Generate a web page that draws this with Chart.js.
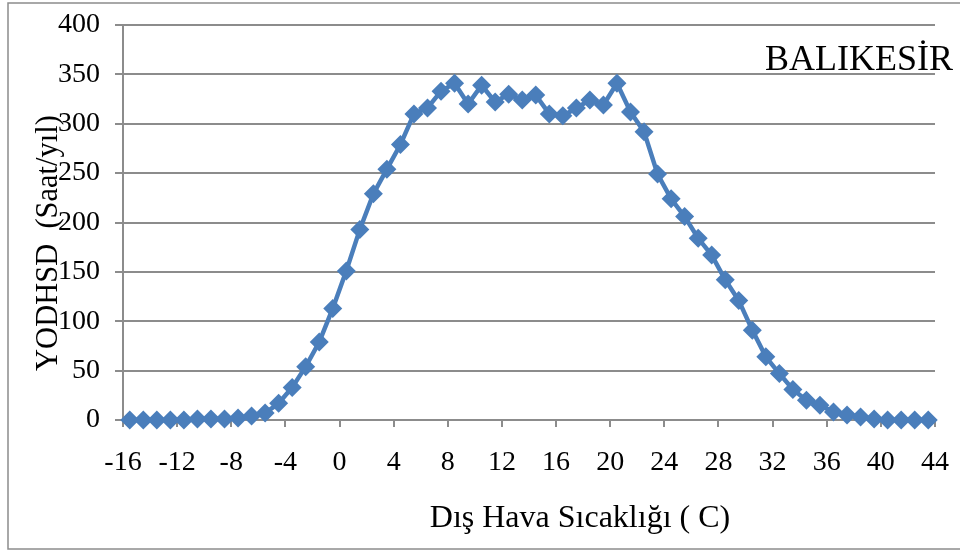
<!DOCTYPE html>
<html lang="tr">
<head>
<meta charset="utf-8">
<title>Balıkesir YODHSD</title>
<script src="https://cdn.jsdelivr.net/npm/chart.js@4"></script>
<style>
  body { margin: 0; background: #fff; }
  canvas { display: block; }
</style>
</head>
<body>
<canvas id="grafik" width="960" height="551"></canvas>
<script>
// sıcaklık aralığı orta noktaları (°C)
const sicaklik = [
  -15.5, -14.5, -13.5, -12.5, -11.5, -10.5, -9.5, -8.5, -7.5, -6.5,
  -5.5, -4.5, -3.5, -2.5, -1.5, -0.5, 0.5, 1.5, 2.5, 3.5,
  4.5, 5.5, 6.5, 7.5, 8.5, 9.5, 10.5, 11.5, 12.5, 13.5,
  14.5, 15.5, 16.5, 17.5, 18.5, 19.5, 20.5, 21.5, 22.5, 23.5,
  24.5, 25.5, 26.5, 27.5, 28.5, 29.5, 30.5, 31.5, 32.5, 33.5,
  34.5, 35.5, 36.5, 37.5, 38.5, 39.5, 40.5, 41.5, 42.5, 43.5
];
// yıllık saat sayısı
const saat = [
  0, 0, 0, 0, 0, 1, 1, 1, 2, 4,
  7, 17, 33, 54, 79, 113, 151, 193, 229, 254,
  279, 310, 316, 333, 341, 320, 339, 322, 330, 324,
  329, 310, 308, 316, 324, 319, 341, 312, 292, 249,
  224, 206, 184, 167, 142, 121, 91, 64, 47, 31,
  20, 15, 8, 5, 3, 1, 0, 0, 0, 0
];
const sehir = 'BALIKESİR';
const xBaslik = 'Dış Hava Sıcaklığı ( C)';
const yBaslik = 'YODHSD  (Saat/yıl)';

const yazi = '"Liberation Serif", "Times New Roman", serif';
const mavi = '#4a7ebb';
const gri = '#8c8c8c';

// dış çerçeve, eksen başlıkları ve şehir adı
const yazilar = {
  id: 'yazilar',
  afterDraw(chart) {
    const ctx = chart.ctx;
    ctx.save();
    ctx.strokeStyle = gri;
    ctx.lineWidth = 1.5;
    ctx.strokeRect(8, 3, 980, 546);

    ctx.fillStyle = '#000';
    ctx.textBaseline = 'alphabetic';
    ctx.font = '32px ' + yazi;
    ctx.textAlign = 'center';
    ctx.fillText(xBaslik, 580, 527);

    ctx.font = '36px ' + yazi;
    ctx.textAlign = 'left';
    ctx.fillText(sehir, 765, 70);

    ctx.translate(57, 243);
    ctx.rotate(-Math.PI / 2);
    ctx.font = '30.5px ' + yazi;
    ctx.textAlign = 'center';
    ctx.fillText(yBaslik, 0, 0);
    ctx.restore();
  }
};

new Chart(document.getElementById('grafik'), {
  type: 'line',
  data: {
    datasets: [{
      data: sicaklik.map((x, i) => ({ x: x, y: saat[i] })),
      borderColor: mavi,
      backgroundColor: mavi,
      borderWidth: 4.5,
      pointStyle: 'rectRot',
      pointRadius: 9.5,
      pointBorderWidth: 0,
      tension: 0,
      clip: false
    }]
  },
  options: {
    responsive: false,
    animation: false,
    layout: { padding: { left: 8, right: 25, top: 25, bottom: 0 } },
    plugins: {
      legend: { display: false },
      tooltip: { enabled: false }
    },
    scales: {
      x: {
        type: 'linear',
        min: -16,
        max: 44,
        ticks: { stepSize: 4, color: '#000', font: { family: yazi, size: 28 }, padding: 19 },
        grid: { drawOnChartArea: false, color: gri, lineWidth: 2, tickLength: 7 },
        border: { color: gri, width: 2 },
        afterFit(scale) {
          scale.height = 131;
          scale.paddingLeft = 0;
          scale.paddingRight = 0;
        }
      },
      y: {
        min: 0,
        max: 400,
        ticks: { stepSize: 50, color: '#000', font: { family: yazi, size: 28 }, padding: 15 },
        grid: { color: gri, lineWidth: 2, tickLength: 8 },
        border: { color: gri, width: 2 },
        afterFit(scale) {
          scale.width = 115;
          scale.paddingTop = 0;
          scale.paddingBottom = 0;
        }
      }
    }
  },
  plugins: [yazilar]
});
</script>
</body>
</html>
